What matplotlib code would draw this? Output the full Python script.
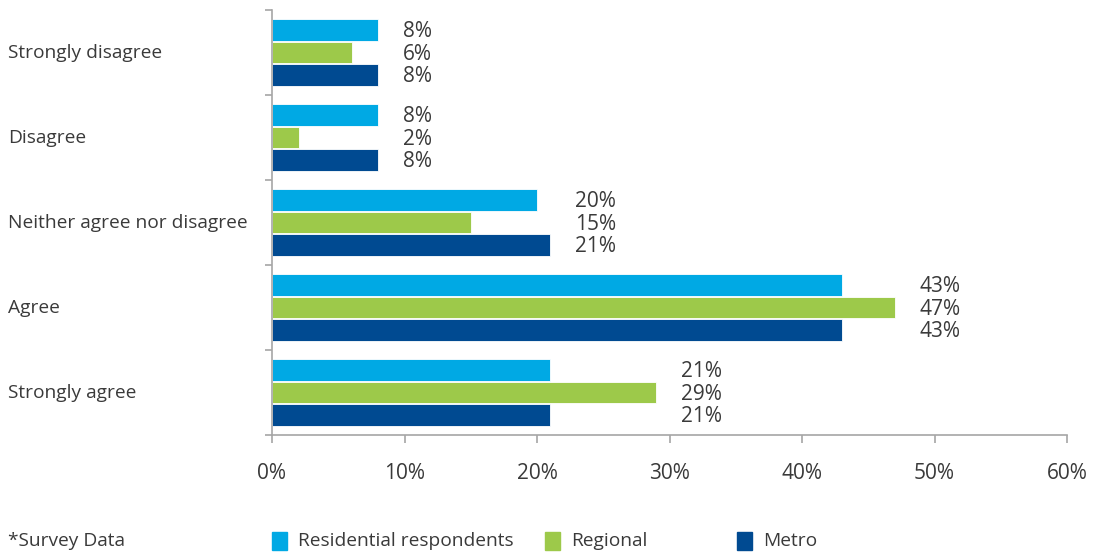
import matplotlib
matplotlib.use("Agg")
import matplotlib.pyplot as plt
import matplotlib.transforms as mtransforms
from matplotlib.patches import Rectangle
import numpy as np

# survey responses, top to bottom
categories = ["Strongly disagree", "Disagree", "Neither agree nor disagree", "Agree", "Strongly agree"]
series_names = ["Residential respondents", "Regional", "Metro"]
residential = [8, 8, 20, 43, 21]
regional = [6, 2, 15, 47, 29]
metro = [8, 8, 21, 43, 21]
x_ticks = [0, 10, 20, 30, 40, 50, 60]
x_tick_labels = ["0%", "10%", "20%", "30%", "40%", "50%", "60%"]
note = "*Survey Data"

colors = ["#00A9E4", "#9DC94A", "#004A91"]
text_color = "#3a3a3a"
axis_color = "#A6A6A6"

plt.rcParams['font.family'] = ['Open Sans', 'DejaVu Sans']

fig = plt.figure(figsize=(10.93, 5.54), dpi=100)
ax = fig.add_axes([272 / 1093, 1 - 435 / 554, (1067 - 272) / 1093, (435 - 10) / 554])

y = np.arange(len(categories))
bar_h = 0.255
step = 0.268
all_series = [residential, regional, metro]
for i, vals in enumerate(all_series):
    ax.barh(y + (i - 1) * step, vals, height=bar_h, color=colors[i],
            edgecolor="white", linewidth=0.6, label=series_names[i])

# value labels, aligned per group just past the longest bar
for j in range(len(categories)):
    gmax = max(s[j] for s in all_series)
    for i, vals in enumerate(all_series):
        ax.text(gmax + 1.9, y[j] + (i - 1) * step + 0.02, f"{vals[j]}%", va="center", ha="left",
                fontsize=15, color=text_color)

ax.set_xlim(0, 60)
ax.set_ylim(len(categories) - 0.5, -0.5)
ax.set_xticks(x_ticks)
ax.set_xticklabels(x_tick_labels, fontsize=15, color=text_color)
ax.set_yticks(np.arange(len(categories) + 1) - 0.5)
ax.set_yticklabels([])
ax.tick_params(axis="x", length=6, color=axis_color, width=1.2, pad=14)
ax.tick_params(axis="y", length=5, color=axis_color, width=1.2)

for s in ["top", "right"]:
    ax.spines[s].set_visible(False)
for s in ["left", "bottom"]:
    ax.spines[s].set_color(axis_color)
    ax.spines[s].set_linewidth(1.2)

# category names, left aligned at figure edge
trans = mtransforms.blended_transform_factory(fig.transFigure, ax.transData)
for j, c in enumerate(categories):
    ax.text(8 / 1093, y[j] + 0.01, c, transform=trans, ha="left", va="center",
            fontsize=13.8, color=text_color)

fig.text(8 / 1093, 1 - 541 / 554, note, ha="left", va="center",
         fontsize=13.8, color=text_color)

# legend drawn by hand to match spacing
legend_x = [272, 545, 737]
for i, name in enumerate(series_names):
    fig.patches.append(Rectangle((legend_x[i] / 1093, 1 - 550 / 554), 15 / 1093, 18 / 554,
                                 transform=fig.transFigure, color=colors[i]))
    fig.text((legend_x[i] + 26) / 1093, 1 - 541 / 554, name, ha="left", va="center",
             fontsize=13.8, color=text_color)

fig.savefig("out.png", dpi=100)
